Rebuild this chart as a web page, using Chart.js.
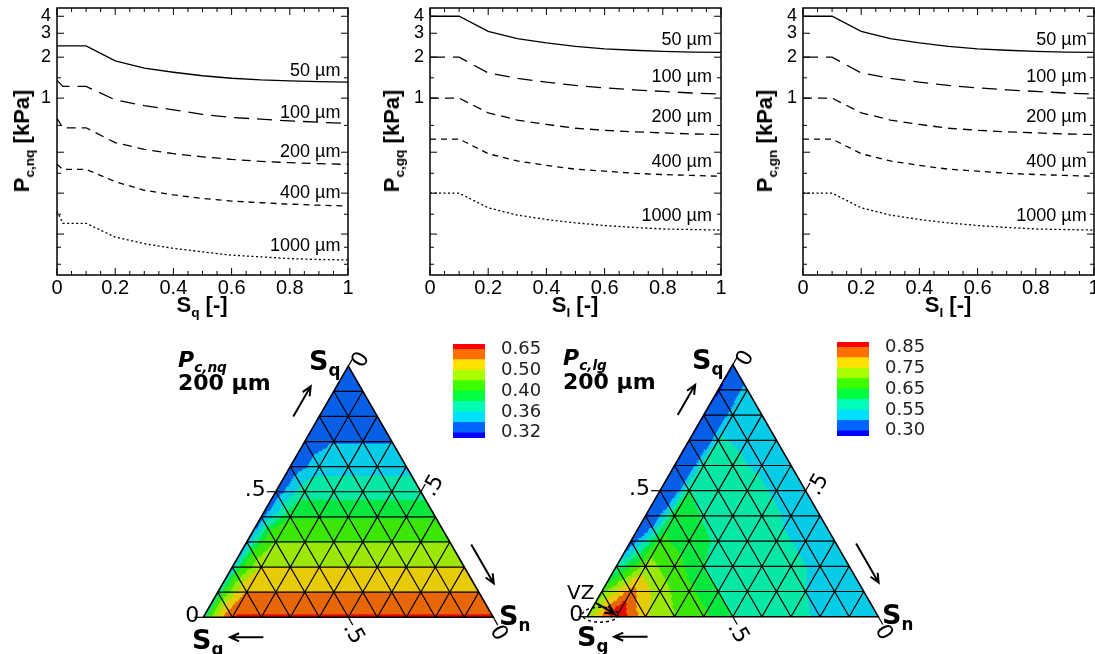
<!DOCTYPE html>
<html>
<head>
<meta charset="utf-8">
<title>Presión capilar: curvas y mapas ternarios</title>
<script src="https://cdn.jsdelivr.net/npm/chart.js"></script>
<style>
  body { margin: 0; background: #fff; width: 1095px; height: 654px; position: relative; overflow: hidden;
         font-family: "Liberation Sans", Arial, sans-serif; }
  .box { position: absolute; }
  .lbl { position: absolute; white-space: nowrap; color: #000; line-height: 1; }
  .ytitle { font: bold 22px "Liberation Sans", Arial, sans-serif; transform: translate(-50%, -50%) rotate(-90deg); }
  .xtitle { font: bold 22px "Liberation Sans", Arial, sans-serif; transform: translate(-50%, -50%); }
  .lbl sub { font-size: 0.62em; vertical-align: baseline; position: relative; top: 0.35em; }
  .ttitle { font: bold 22px "DejaVu Sans", sans-serif; }
  .ttitle i { font-style: italic; }
  .svar { font: bold 27px "DejaVu Sans", sans-serif; }
  .vz { font: 20px "DejaVu Sans", sans-serif; }
</style>
</head>
<body>
  <!-- curvas de presión capilar -->
  <div class="box" style="left:0;top:0;width:365px;height:325px"><canvas id="pcNq"></canvas></div>
  <div class="box" style="left:373px;top:0;width:365px;height:325px"><canvas id="pcGq"></canvas></div>
  <div class="box" style="left:746px;top:0;width:349px;height:325px"><canvas id="pcGn"></canvas></div>

  <div class="lbl ytitle" style="left:22px;top:141px">P<sub>c,nq</sub> [kPa]</div>
  <div class="lbl ytitle" style="left:392px;top:141px">P<sub>c,gq</sub> [kPa]</div>
  <div class="lbl ytitle" style="left:765px;top:141px">P<sub>c,gn</sub> [kPa]</div>
  <div class="lbl xtitle" style="left:202px;top:305px">S<sub>q</sub> [-]</div>
  <div class="lbl xtitle" style="left:575px;top:305px">S<sub>l</sub> [-]</div>
  <div class="lbl xtitle" style="left:948px;top:305px">S<sub>l</sub> [-]</div>

  <!-- mapas ternarios -->
  <div class="box" style="left:160px;top:330px;width:400px;height:324px"><canvas id="ternNq"></canvas></div>
  <div class="box" style="left:550px;top:330px;width:400px;height:324px"><canvas id="ternLg"></canvas></div>
  <div class="box" style="left:445px;top:338px;width:115px;height:105px"><canvas id="cbNq"></canvas></div>
  <div class="box" style="left:829px;top:336px;width:115px;height:105px"><canvas id="cbLg"></canvas></div>

  <div class="lbl ttitle" style="left:178px;top:347px"><i>P<sub>c,nq</sub></i></div>
  <div class="lbl ttitle" style="left:178px;top:370px">200 µm</div>
  <div class="lbl svar" style="left:309px;top:345px">S<sub>q</sub></div>
  <div class="lbl svar" style="left:499px;top:600px">S<sub>n</sub></div>
  <div class="lbl svar" style="left:192px;top:624px">S<sub>g</sub></div>

  <div class="lbl ttitle" style="left:563px;top:345px"><i>P<sub>c,lg</sub></i></div>
  <div class="lbl ttitle" style="left:563px;top:369px">200 µm</div>
  <div class="lbl svar" style="left:692px;top:344px">S<sub>q</sub></div>
  <div class="lbl svar" style="left:882px;top:599px">S<sub>n</sub></div>
  <div class="lbl svar" style="left:577px;top:621px">S<sub>g</sub></div>
  <div class="lbl vz" style="left:567px;top:580px">VZ</div>

  <script>
    // ---- datos: curvas (kPa) ----
    const satX = [0, 0.1, 0.2, 0.3, 0.4, 0.5, 0.6, 0.7, 0.8, 0.9, 1];
    const satXKink = [0, 0.02, 0.1, 0.2, 0.3, 0.4, 0.5, 0.6, 0.7, 0.8, 0.9, 1];
    const grainLabels = ['50 µm', '100 µm', '200 µm', '400 µm', '1000 µm'];
    const yLabelTicks = [1, 2, 3, 4];

    const pcNq50   = [2.42, 2.42, 1.88, 1.66, 1.55, 1.46, 1.40, 1.36, 1.34, 1.32, 1.31];
    const pcNq100  = [1.35, 1.22, 1.22, 0.97, 0.88, 0.82, 0.76, 0.72, 0.70, 0.68, 0.665, 0.65];
    const pcNq200  = [0.71, 0.605, 0.605, 0.47, 0.42, 0.39, 0.37, 0.354, 0.343, 0.335, 0.33, 0.325];
    const pcNq400  = [0.327, 0.299, 0.299, 0.243, 0.21, 0.194, 0.183, 0.175, 0.17, 0.166, 0.163, 0.161];
    const pcNq1000 = [0.148, 0.12, 0.12, 0.095, 0.085, 0.0785, 0.074, 0.070, 0.068, 0.066, 0.065, 0.0645];

    const pcGq50   = [4.0, 4.0, 3.1, 2.74, 2.55, 2.40, 2.30, 2.25, 2.21, 2.18, 2.17];
    const pcGq100  = [2.0, 2.0, 1.53, 1.40, 1.31, 1.24, 1.19, 1.15, 1.12, 1.09, 1.07];
    const pcGq200  = [1.0, 1.0, 0.78, 0.69, 0.64, 0.60, 0.58, 0.565, 0.555, 0.545, 0.54];
    const pcGq400  = [0.50, 0.50, 0.39, 0.345, 0.32, 0.30, 0.29, 0.28, 0.274, 0.27, 0.266];
    const pcGq1000 = [0.20, 0.20, 0.156, 0.138, 0.128, 0.121, 0.1155, 0.112, 0.109, 0.108, 0.107];

    const pcGn50   = [4.0, 4.0, 3.1, 2.74, 2.55, 2.40, 2.30, 2.25, 2.21, 2.18, 2.17];
    const pcGn100  = [2.0, 2.0, 1.53, 1.40, 1.31, 1.24, 1.19, 1.15, 1.12, 1.09, 1.07];
    const pcGn200  = [1.0, 1.0, 0.78, 0.69, 0.64, 0.60, 0.58, 0.565, 0.555, 0.545, 0.54];
    const pcGn400  = [0.50, 0.50, 0.39, 0.345, 0.32, 0.30, 0.29, 0.28, 0.274, 0.27, 0.266];
    const pcGn1000 = [0.20, 0.20, 0.156, 0.138, 0.128, 0.121, 0.1155, 0.112, 0.109, 0.108, 0.107];

    // ---- datos: mapas ternarios 200 µm (fila i: S_q = i/10, columna j: S_n = j/10) ----
    const ternNq200 = [
      [0.36, 0.655, 0.66, 0.66, 0.66, 0.66, 0.66, 0.66, 0.66, 0.66, 0.66],
      [0.35, 0.573, 0.573, 0.573, 0.573, 0.573, 0.573, 0.573, 0.573, 0.573],
      [0.34, 0.498, 0.498, 0.498, 0.498, 0.498, 0.498, 0.498, 0.498],
      [0.335, 0.448, 0.448, 0.448, 0.448, 0.448, 0.448, 0.448],
      [0.33, 0.395, 0.395, 0.395, 0.395, 0.395, 0.395],
      [0.325, 0.372, 0.372, 0.372, 0.372, 0.372],
      [0.322, 0.352, 0.352, 0.352, 0.352],
      [0.322, 0.339, 0.339, 0.339],
      [0.322, 0.333, 0.333],
      [0.322, 0.328],
      [0.325]
    ];
    const ternLg200 = [
      [0.70, 0.90, 0.76, 0.70, 0.66, 0.60, 0.585, 0.56, 0.545, 0.54, 0.535],
      [0.68, 0.82, 0.72, 0.66, 0.60, 0.58, 0.565, 0.55, 0.545, 0.54],
      [0.56, 0.72, 0.67, 0.60, 0.585, 0.57, 0.555, 0.545, 0.54],
      [0.45, 0.66, 0.625, 0.59, 0.575, 0.555, 0.545, 0.54],
      [0.36, 0.63, 0.595, 0.58, 0.56, 0.545, 0.54],
      [0.30, 0.60, 0.585, 0.56, 0.545, 0.54],
      [0.29, 0.575, 0.555, 0.545, 0.54],
      [0.29, 0.552, 0.545, 0.54],
      [0.29, 0.54, 0.54],
      [0.28, 0.55],
      [0.29]
    ];

    // niveles de contorno y colores (de menor a mayor)
    const levelsNq = [0.32, 0.34, 0.36, 0.38, 0.40, 0.45, 0.50, 0.575, 0.65];
    const levelsLg = [0.30, 0.50, 0.55, 0.60, 0.65, 0.70, 0.75, 0.80, 0.85];
    const bandColors = ['#0000ff', '#0064ff', '#00e1ff', '#00ffb4', '#00ff40',
                        '#3cff00', '#aaff00', '#ffe000', '#ff6e00', '#ff0000'];

    const dashes = [[], [15, 8], [9, 6], [6, 5], [2, 2.5]];
    const FONT = '"Liberation Sans", Arial, sans-serif';
    const TERN_H = Math.sqrt(3) / 2;
    const SUB = 10;

    // marco con marcas hacia dentro + etiquetas de cada curva
    const framePlugin = {
      id: 'frame',
      afterDatasetsDraw(chart, args, o) {
        const { ctx, chartArea: a, scales: { x, y } } = chart;
        ctx.save();
        ctx.strokeStyle = '#000';
        ctx.lineWidth = 1;
        ctx.beginPath();
        for (let k = 0; k <= 20; k++) {
          const px = x.getPixelForValue(k / 20), len = k % 4 === 0 ? 7 : 4;
          ctx.moveTo(px, a.bottom); ctx.lineTo(px, a.bottom - len);
          ctx.moveTo(px, a.top); ctx.lineTo(px, a.top + len);
        }
        [[0.1, 7], [0.2, 7], [0.4, 7], [1, 7], [2, 7], [3, 7], [4, 7],
         [0.06, 4], [0.08, 4], [0.14, 4], [0.28, 4], [0.63, 4], [1.41, 4]].forEach(([v, len]) => {
          const py = y.getPixelForValue(v);
          ctx.moveTo(a.left, py); ctx.lineTo(a.left + len, py);
          ctx.moveTo(a.right, py); ctx.lineTo(a.right - len, py);
        });
        ctx.stroke();
        ctx.lineWidth = 1.5;
        ctx.strokeRect(a.left, a.top, a.width, a.height);

        ctx.font = '18px ' + FONT;
        ctx.fillStyle = '#000';
        ctx.textAlign = 'right';
        ctx.textBaseline = 'middle';
        o.labelAt.forEach((v, k) => {
          ctx.fillText(grainLabels[k], x.getPixelForValue(o.labelX), y.getPixelForValue(v));
        });
        ctx.restore();
      }
    };

    function pcChart(id, series, padRight, labelAt, labelX) {
      new Chart(document.getElementById(id), {
        type: 'scatter',
        data: {
          datasets: series.map((ys, k) => ({
            label: grainLabels[k],
            data: (ys.length === satXKink.length ? satXKink : satX).map((x, i) => ({ x: x, y: ys[i] })),
            showLine: true,
            borderColor: '#000',
            borderWidth: 1.3,
            borderDash: dashes[k],
            pointRadius: 0,
            fill: false
          }))
        },
        options: {
          animation: false,
          responsive: true,
          maintainAspectRatio: false,
          events: [],
          layout: { padding: { left: 0, right: padRight, top: 8, bottom: 0 } },
          plugins: { legend: { display: false }, tooltip: { enabled: false }, frame: { labelAt, labelX } },
          scales: {
            x: {
              type: 'linear', min: 0, max: 1,
              grid: { display: false, drawTicks: false },
              border: { display: false },
              ticks: { stepSize: 0.2, padding: 1, color: '#000', maxRotation: 0, autoSkip: false,
                       font: { family: FONT, size: 20 },
                       callback: v => String(+v.toFixed(1)) },
              afterFit: s => { s.height = 50; s.paddingLeft = 0; s.paddingRight = 0; }
            },
            y: {
              type: 'logarithmic', min: 0.05, max: 4.6,
              grid: { display: false, drawTicks: false },
              border: { display: false },
              afterBuildTicks: s => { s.ticks = yLabelTicks.map(v => ({ value: v })); },
              ticks: { padding: 6, color: '#000', autoSkip: false, font: { family: FONT, size: 18 },
                       callback: v => String(v) },
              afterFit: s => { s.width = 57; s.paddingTop = 0; s.paddingBottom = 0; }
            }
          }
        },
        plugins: [framePlugin]
      });
    }

    pcChart('pcNq', [pcNq50, pcNq100, pcNq200, pcNq400, pcNq1000], 17, [1.59, 0.78, 0.40, 0.20, 0.081], 0.974);
    pcChart('pcGq', [pcGq50, pcGq100, pcGq200, pcGq400, pcGq1000], 17, [2.68, 1.44, 0.72, 0.336, 0.135], 0.969);
    pcChart('pcGn', [pcGn50, pcGn100, pcGn200, pcGn400, pcGn1000], 1, [2.68, 1.44, 0.72, 0.336, 0.135], 0.975);

    // ---- ternarios ----
    function fineField(V) {
      const M = 10 * SUB, F = [];
      for (let a = 0; a <= M; a++) {
        const row = [];
        for (let b = 0; a + b <= M; b++) {
          const i = Math.floor(a / SUB), j = Math.floor(b / SUB), ua = a % SUB, vb = b % SUB;
          const u = ua / SUB, v = vb / SUB;
          let f;
          if (ua === 0 && vb === 0) f = V[i][j];
          else if (ua + vb <= SUB) f = V[i][j] * (1 - u - v) + V[i][j + 1] * v + V[i + 1][j] * u;
          else f = V[i + 1][j + 1] * (u + v - 1) + V[i][j + 1] * (1 - u) + V[i + 1][j] * (1 - v);
          row.push(f);
        }
        F.push(row);
      }
      return F;
    }

    function pixelFn(chart) {
      const sx = chart.scales.x, sy = chart.scales.y;
      return (sq, sn) => [sx.getPixelForValue(sn + sq / 2), sy.getPixelForValue(sq * TERN_H)];
    }

    function arrow(ctx, x0, y0, x1, y1) {
      const ang = Math.atan2(y1 - y0, x1 - x0), h = 10;
      ctx.beginPath();
      ctx.moveTo(x0, y0); ctx.lineTo(x1, y1);
      ctx.moveTo(x1 - h * Math.cos(ang - 0.42), y1 - h * Math.sin(ang - 0.42));
      ctx.lineTo(x1, y1);
      ctx.lineTo(x1 - h * Math.cos(ang + 0.42), y1 - h * Math.sin(ang + 0.42));
      ctx.stroke();
    }

    function rotText(ctx, txt, x, y, ang) {
      ctx.save();
      ctx.translate(x, y);
      ctx.rotate(ang);
      ctx.textAlign = 'center';
      ctx.textBaseline = 'middle';
      ctx.fillText(txt, 0, 0);
      ctx.restore();
    }

    const ternaryPlugin = {
      id: 'ternary',
      beforeDatasetsDraw(chart, args, o) {
        const ctx = chart.ctx, P = pixelFn(chart), M = 10 * SUB;
        const F = fineField(o.values);
        const pix = F.map((row, a) => row.map((_, b) => P(a / M, b / M)));
        const paths = bandColors.map(() => new Path2D());
        const band = v => o.levels.filter(l => v >= l).length;
        const tri = (p, q, r, v) => {
          const path = paths[band(v)];
          path.moveTo(p[0], p[1]); path.lineTo(q[0], q[1]); path.lineTo(r[0], r[1]); path.closePath();
        };
        for (let a = 0; a < M; a++) {
          for (let b = 0; a + b < M; b++) {
            tri(pix[a][b], pix[a][b + 1], pix[a + 1][b], (F[a][b] + F[a][b + 1] + F[a + 1][b]) / 3);
            if (a + b <= M - 2) {
              tri(pix[a][b + 1], pix[a + 1][b], pix[a + 1][b + 1],
                  (F[a][b + 1] + F[a + 1][b] + F[a + 1][b + 1]) / 3);
            }
          }
        }
        ctx.save();
        ctx.lineWidth = 0.8;
        ctx.lineJoin = 'round';
        paths.forEach((path, k) => {
          ctx.fillStyle = bandColors[k];
          ctx.strokeStyle = bandColors[k];
          ctx.fill(path);
          ctx.stroke(path);
        });
        // sombreado leve, como el punteado del original
        const A = P(0, 0), B = P(0, 1), C = P(1, 0);
        ctx.fillStyle = 'rgba(60, 60, 60, 0.12)';
        ctx.beginPath();
        ctx.moveTo(A[0], A[1]); ctx.lineTo(B[0], B[1]); ctx.lineTo(C[0], C[1]); ctx.closePath();
        ctx.fill();
        ctx.restore();
      },
      afterDatasetsDraw(chart, args, o) {
        const ctx = chart.ctx, P = pixelFn(chart);
        ctx.save();
        ctx.strokeStyle = '#000';
        ctx.fillStyle = '#000';
        ctx.lineWidth = 1.2;
        ctx.beginPath();
        const seg = (p, q) => { ctx.moveTo(p[0], p[1]); ctx.lineTo(q[0], q[1]); };
        for (let k = 1; k < 10; k++) {
          const f = k / 10;
          seg(P(f, 0), P(f, 1 - f));
          seg(P(0, f), P(1 - f, f));
          seg(P(0, 1 - f), P(1 - f, 0));
        }
        ctx.stroke();

        ctx.lineWidth = 1.6;
        ctx.beginPath();
        const A = P(0, 0), B = P(0, 1), C = P(1, 0);
        ctx.moveTo(A[0], A[1]); ctx.lineTo(B[0], B[1]); ctx.lineTo(C[0], C[1]); ctx.closePath();
        ctx.stroke();

        // marcas y etiquetas de los ejes
        ctx.lineWidth = 1.2;
        ctx.font = '22px "DejaVu Sans", sans-serif';
        [[0, '0', 4], [0.5, '.5', 10]].forEach(([f, txt, gap]) => {
          const [lx, ly] = P(f, 0);
          ctx.beginPath(); ctx.moveTo(lx, ly); ctx.lineTo(lx - 9, ly); ctx.stroke();
          ctx.textAlign = 'right'; ctx.textBaseline = 'middle';
          ctx.fillText(txt, lx - gap, ly - 1);
          const [rx, ry] = P(1 - f, f);
          ctx.beginPath(); ctx.moveTo(rx, ry); ctx.lineTo(rx + 4.5, ry - 7.8); ctx.stroke();
          rotText(ctx, txt, rx + 13, ry - 6, -Math.PI / 3);
          const [bx, by] = P(0, 1 - f);
          ctx.beginPath(); ctx.moveTo(bx, by); ctx.lineTo(bx + 4.5, by + 7.8); ctx.stroke();
          rotText(ctx, txt, bx + 5, by + 16, Math.PI / 3);
        });

        // flechas de dirección
        ctx.lineWidth = 2;
        let p = P(0.8, 0), q = P(0.92, 0);
        arrow(ctx, p[0] - 26, p[1], q[0] - 26, q[1]);
        p = P(0.29, 0.71); q = P(0.135, 0.865);
        arrow(ctx, p[0] + 20, p[1], q[0] + 20, q[1]);
        p = P(0, 0.207); q = P(0, 0.092);
        arrow(ctx, p[0], p[1] + 20, q[0], q[1] + 20);

        if (o.vz) {
          const [vx, vy] = P(0, 0);
          ctx.lineWidth = 1.5;
          ctx.setLineDash([3, 3]);
          ctx.beginPath();
          ctx.ellipse(vx + 13, vy - 2, 18, 7.5, 0, 0, Math.PI * 2);
          ctx.stroke();
          ctx.setLineDash([]);
          ctx.lineWidth = 2;
          arrow(ctx, vx + 8, vy - 14, vx + 27, vy - 3);
        }
        ctx.restore();
      }
    };

    function ternChart(id, grid, levels, pad, vz) {
      new Chart(document.getElementById(id), {
        type: 'scatter',
        data: {
          datasets: [{
            data: grid.flatMap((row, i) => row.map((v, j) => ({ x: j / 10 + i / 20, y: i / 10 * TERN_H, v: v }))),
            pointRadius: 0
          }]
        },
        options: {
          animation: false,
          responsive: true,
          maintainAspectRatio: false,
          events: [],
          layout: { padding: pad },
          plugins: { legend: { display: false }, tooltip: { enabled: false },
                     ternary: { values: grid, levels: levels, vz: vz } },
          scales: {
            x: { type: 'linear', min: 0, max: 1, display: false },
            y: { type: 'linear', min: 0, max: TERN_H, display: false }
          }
        },
        plugins: [ternaryPlugin]
      });
    }

    ternChart('ternNq', ternNq200, levelsNq, { left: 43.3, right: 66.7, top: 36.2, bottom: 36.7 }, false);
    ternChart('ternLg', ternLg200, levelsLg, { left: 37.3, right: 71.7, top: 34.7, bottom: 37.3 }, true);

    // ---- barras de color ----
    function colorbar(id, levels) {
      const heights = [0.5, 1, 1, 1, 1, 1, 1, 1, 1, 0.5];
      new Chart(document.getElementById(id), {
        type: 'bar',
        data: {
          labels: [''],
          datasets: bandColors.map((c, k) => ({
            data: [heights[k]], backgroundColor: c, borderWidth: 0,
            barPercentage: 1, categoryPercentage: 1
          }))
        },
        options: {
          animation: false,
          responsive: true,
          maintainAspectRatio: false,
          events: [],
          layout: { padding: { left: 8, top: 6, bottom: 5, right: 0 } },
          plugins: { legend: { display: false }, tooltip: { enabled: false } },
          scales: {
            x: { stacked: true, display: false },
            y: {
              stacked: true, position: 'right', min: 0, max: 9,
              grid: { display: false, drawTicks: false },
              border: { display: false },
              afterBuildTicks: s => { s.ticks = [0.5, 2.5, 4.5, 6.5, 8.5].map(v => ({ value: v })); },
              afterFit: s => { s.width = 75; s.paddingTop = 0; s.paddingBottom = 0; },
              ticks: { padding: 16, color: '#222', autoSkip: false,
                       font: { family: '"DejaVu Sans", sans-serif', size: 18 },
                       callback: (v, i) => levels[i * 2].toFixed(2) }
            }
          }
        }
      });
    }

    colorbar('cbNq', levelsNq);
    colorbar('cbLg', levelsLg);
  </script>
</body>
</html>
